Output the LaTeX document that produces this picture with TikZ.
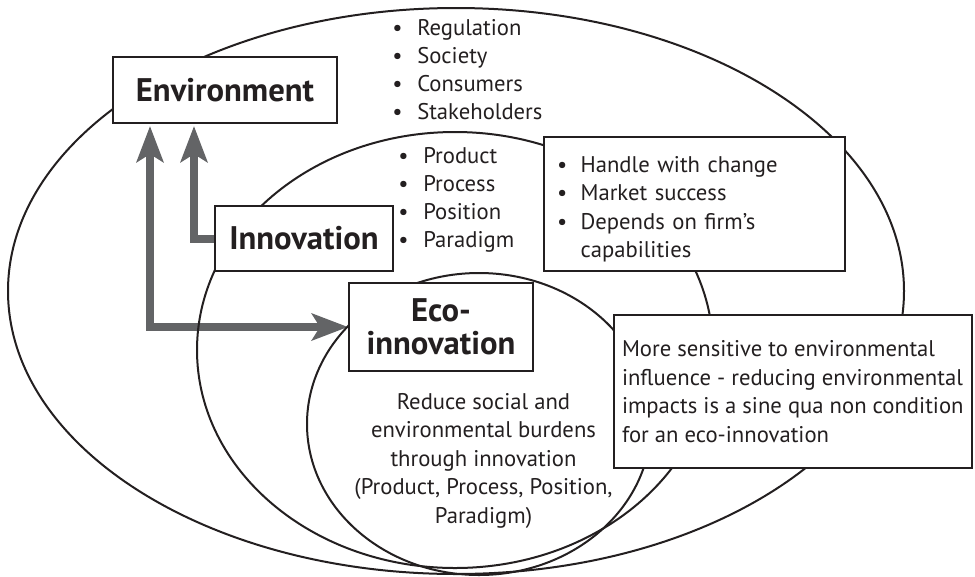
\documentclass[tikz,border=0pt]{standalone}
\usepackage{fontspec}
\setmainfont{PT Sans}
\usetikzlibrary{arrows.meta,backgrounds}

\definecolor{ink}{RGB}{35,31,32}
\definecolor{flowgray}{RGB}{99,100,102}

\tikzset{
  ring/.style={draw=ink, line width=1.5pt},
  box/.style={draw=ink, line width=1.5pt, fill=white, text=ink, inner sep=0pt},
  heading/.style={font=\fontsize{24.5}{24.75}\selectfont\bfseries},
  body/.style={font=\fontsize{17}{21.4}\selectfont},
  item/.style={body, anchor=base west, inner sep=0pt, text=ink},
  flow/.style={draw=flowgray, line width=6pt, >={Stealth[length=27pt, width=20pt, inset=6pt]}},
}
\newcommand{\itembullet}{\llap{\textbullet\hspace{11pt}}}

\begin{document}
\begin{tikzpicture}[x=0.75pt,y=0.75pt,yscale=-1,xscale=1]
\useasboundingbox (0,0) rectangle (975,576);

% Boxes
\node[box, heading, minimum width=168pt, minimum height=49.5pt] (env) at (225,90) {Environment};
\node[box, heading, minimum width=133.5pt, minimum height=48.75pt] (inno) at (304,238.5) {Innovation};
\node[box, heading, align=center, minimum width=138pt, minimum height=66pt] (eco) at (441,327) {Eco-\\innovation};
\node[box, body, anchor=west, minimum height=100.5pt, inner xsep=9.75pt, text width=206.25pt, align=left] (firm) at (543,204)
  {\raisebox{-4pt}[\height][\depth]{\begin{tabular}{@{}l@{\hspace{10pt}}l@{}}
   \textbullet & Handle with change\\
   \textbullet & Market success\\
   \textbullet & Depends on firm’s\\
               & capabilities
   \end{tabular}}};
\node[box, body, anchor=west, minimum height=114.75pt, inner xsep=6pt, align=left] (sens) at (613,391.5)
  {More sensitive to environmental\\influence - reducing environmental\\impacts is a sine qua non condition\\for an eco-innovation};

% Text Node: outer ring list
\foreach \t [count=\i from 0] in {Regulation,Society,Consumers,Stakeholders}
  \node[item] (ext\i) at (417,35+28.3*\i) {\itembullet\t};
% Text Node: middle ring list
\foreach \t [count=\i from 0] in {Product,Process,Position,Paradigm}
  \node[item] (kind\i) at (423,163+28.3*\i) {\itembullet\t};
% Text Node
\node[body, text=ink, align=center, anchor=north, inner sep=0pt] (burden) at (483.5,393)
  {Reduce social and\\environmental burdens\\through innovation\\(Product, Process, Position,\\Paradigm)};

\begin{scope}[on background layer]
% Arrows
\draw[flow,->] (inno.west) -| ([shift={(82,2)}]env.south west);
\draw[flow,<->] ([shift={(38,2)}]env.south west) |- (eco.west);
% Rings
\draw[ring] (456,291) ellipse [x radius=448, y radius=283];
\draw[ring] (455,350) ellipse [x radius=258, y radius=218];
\draw[ring] (479,424) ellipse [x radius=172, y radius=151];
\end{scope}
\end{tikzpicture}
\end{document}
